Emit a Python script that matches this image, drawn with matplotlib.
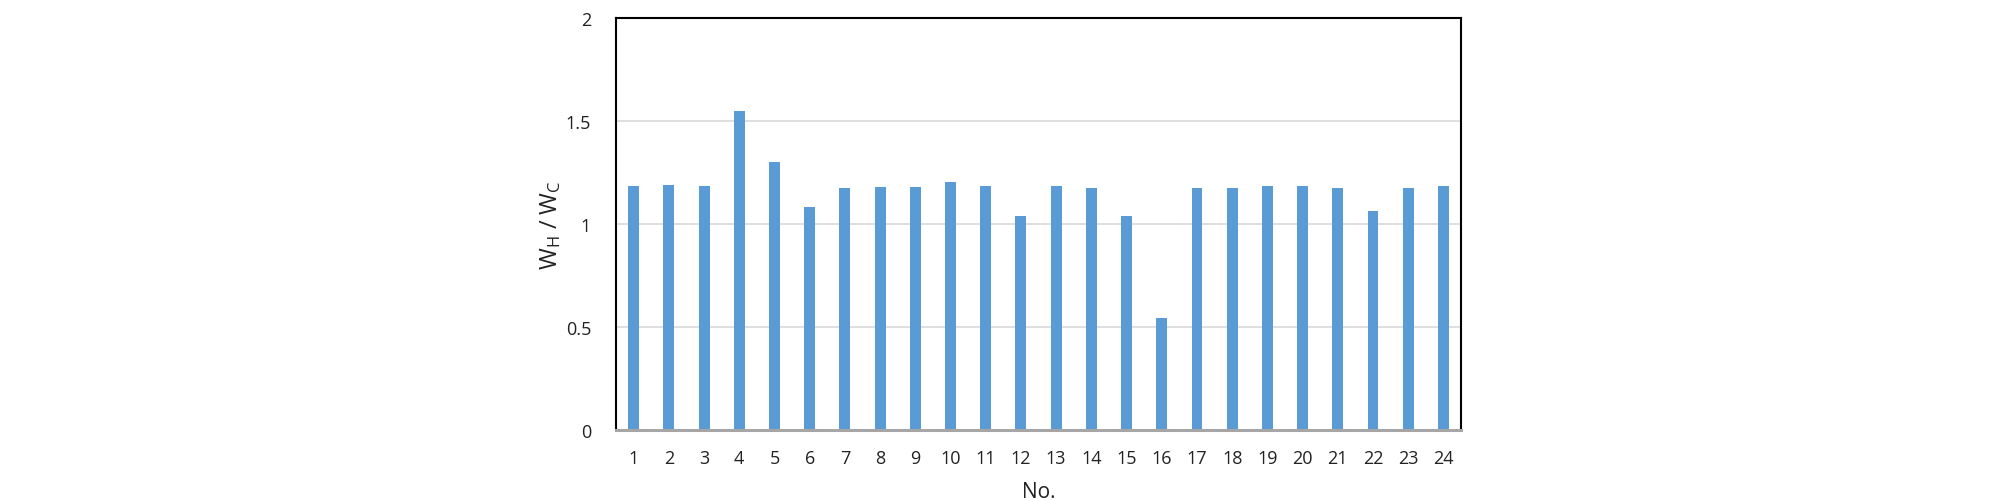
import numpy as np
from matplotlib import pyplot as plt

plt.rcParams['font.family'] = ['Open Sans', 'DejaVu Sans']
plt.rcParams['mathtext.fontset'] = 'custom'
plt.rcParams['mathtext.rm'] = 'Open Sans'
plt.rcParams['mathtext.it'] = 'Open Sans'

numbers = [str(i) for i in range(1, 25)]
ratios = [1.185, 1.188, 1.183, 1.548, 1.303, 1.081, 1.175, 1.178, 1.181, 1.206,
          1.183, 1.037, 1.183, 1.177, 1.037, 0.543, 1.175, 1.175, 1.183, 1.183,
          1.175, 1.063, 1.175, 1.183]
y_ticks = [0, 0.5, 1, 1.5, 2]
y_tick_labels = ['0', '0.5', '1', '1.5', '2']


def main():
  fig = plt.figure(figsize=(20.08, 5.02), dpi=100)
  ax = fig.add_axes([0.3068, 0.142, 0.4208, 0.8196])

  x = np.arange(len(numbers))
  ax.bar(x, ratios, width=0.31, color='#5B9BD5', zorder=3)

  ax.set_xlim(-0.5, len(numbers) - 0.5)
  ax.set_ylim(0, 2)
  ax.set_xticks(x)
  ax.set_xticklabels(numbers)
  ax.set_yticks(y_ticks)
  ax.set_yticklabels(y_tick_labels)
  ax.tick_params(axis='both', length=0, labelsize=13, colors='#222222')
  ax.tick_params(axis='x', pad=14)
  ax.tick_params(axis='y', pad=18)

  ax.grid(axis='y', color='#D9D9D9', linewidth=1.2, zorder=0)
  for side in ['top', 'left', 'right']:
    ax.spines[side].set_color('black')
    ax.spines[side].set_linewidth(1.5)
  ax.spines['bottom'].set_color('#A6A6A6')
  ax.spines['bottom'].set_linewidth(2.2)
  ax.spines['bottom'].set_zorder(4)

  ax.set_xlabel('No.', fontsize=15, labelpad=10, color='#222222')
  ax.set_ylabel(r'W$_\mathrm{H}$ / W$_\mathrm{C}$', fontsize=17, labelpad=2, color='#222222')

  fig.savefig('out.png', dpi=100)
  plt.close(fig)


if __name__ == '__main__':
  main()
